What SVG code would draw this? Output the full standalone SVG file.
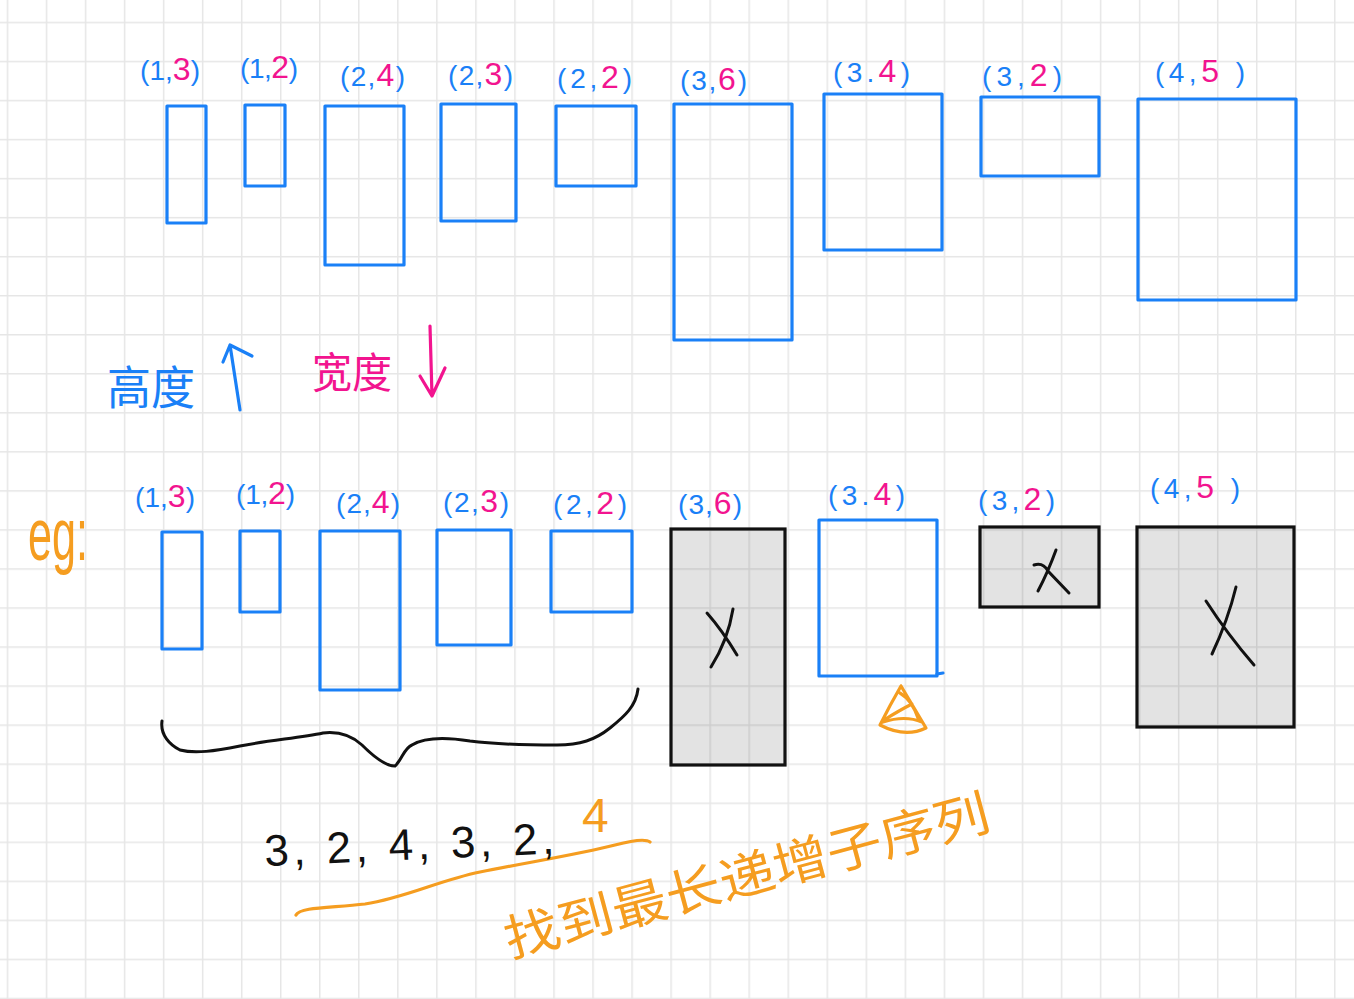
<svg xmlns="http://www.w3.org/2000/svg" width="1354" height="999" viewBox="0 0 1354 999">
<defs>
<pattern id="grid" patternUnits="userSpaceOnUse" x="6.7" y="21.7" width="39.04" height="39.04">
<path d="M0,0 H39.04 M0,0 V39.04" fill="none" stroke="#e6e6e6" stroke-width="3"/>
</pattern>
<style>
.b{fill:none;stroke:#1a80f7;stroke-width:3.2;stroke-linejoin:round;stroke-linecap:round}
.g{fill:#000;fill-opacity:0.11;stroke:#111;stroke-width:3.2}
.x{fill:none;stroke:#111;stroke-width:3;stroke-linecap:round}
.o{fill:none;stroke:#f59d20;stroke-width:3.2;stroke-linecap:round;stroke-linejoin:round}
.lbl{font-family:"Liberation Sans","Noto Sans",sans-serif;font-size:28px;fill:#1a80f7}
.pk{fill:#f2148f;font-size:32px}
.cjk{font-family:"Noto Sans CJK SC","Noto Sans",sans-serif}
</style>
</defs>
<rect width="1354" height="999" fill="#fff"/>
<rect width="1354" height="999" fill="url(#grid)"/>

<g id="top-row">
<g id="t1"><text class="lbl" x="140" y="80" textLength="60" lengthAdjust="spacing">(1,<tspan class="pk">3</tspan>)</text><rect class="b" x="167" y="106" width="39" height="117"/></g>
<g id="t2"><text class="lbl" x="240" y="78" textLength="58" lengthAdjust="spacing">(1,<tspan class="pk">2</tspan>)</text><rect class="b" x="245" y="105" width="40" height="81"/></g>
<g id="t3"><text class="lbl" x="340" y="86" textLength="65" lengthAdjust="spacing">(2,<tspan class="pk">4</tspan>)</text><rect class="b" x="325" y="106" width="79" height="159"/></g>
<g id="t4"><text class="lbl" x="448" y="85" textLength="65" lengthAdjust="spacing">(2,<tspan class="pk">3</tspan>)</text><rect class="b" x="441" y="104" width="75" height="117"/></g>
<g id="t5"><text class="lbl" x="557" y="88" textLength="75" lengthAdjust="spacing">(2,<tspan class="pk">2</tspan>)</text><rect class="b" x="556" y="106" width="80" height="80"/></g>
<g id="t6"><text class="lbl" x="680" y="90" textLength="67" lengthAdjust="spacing">(3,<tspan class="pk" font-size="40">6</tspan>)</text><rect class="b" x="674" y="104" width="118" height="236"/></g>
<g id="t7"><text class="lbl" x="833" y="82" textLength="77" lengthAdjust="spacing">(3.<tspan class="pk" font-size="36">4</tspan>)</text><rect class="b" x="824" y="94" width="118" height="156"/></g>
<g id="t8"><text class="lbl" x="982" y="86" textLength="80" lengthAdjust="spacing">(3,<tspan class="pk">2</tspan>)</text><rect class="b" x="981" y="97" width="118" height="79"/></g>
<g id="t9"><text class="lbl" x="1155" y="82" textLength="90" lengthAdjust="spacing" font-size="34">(4,<tspan class="pk" font-size="38">5</tspan> )</text><rect class="b" x="1138" y="99" width="158" height="201"/></g>
</g>

<g id="legend">
<g id="height-asc"><text class="cjk" x="107" y="404" font-size="46" fill="#1a80f7" textLength="88" lengthAdjust="spacingAndGlyphs">高度</text>
<path class="b" d="M240,410 L230,345 M223,362 L230,345 L252,356"/></g>
<g id="width-desc"><text class="cjk" x="312" y="388" font-size="42" fill="#f2148f" textLength="80" lengthAdjust="spacingAndGlyphs">宽度</text>
<path class="b" style="stroke:#f2148f" d="M430,326 L432,396 M420,376 L432,396 L445,368"/></g>
</g>

<g id="eg"><text x="0" y="0" font-family="'Liberation Sans',sans-serif" font-size="50" fill="#f59d20" textLength="60" lengthAdjust="spacingAndGlyphs" transform="translate(28,560) scale(1,1.5)">eg:</text></g>

<g id="bottom-row">
<g id="b1"><text class="lbl" x="135" y="507" textLength="60" lengthAdjust="spacing">(1,<tspan class="pk">3</tspan>)</text><rect class="b" x="162" y="532" width="40" height="117"/></g>
<g id="b2"><text class="lbl" x="236" y="504" textLength="59" lengthAdjust="spacing">(1,<tspan class="pk">2</tspan>)</text><rect class="b" x="240" y="531" width="40" height="81"/></g>
<g id="b3"><text class="lbl" x="336" y="513" textLength="64" lengthAdjust="spacing">(2,<tspan class="pk">4</tspan>)</text><rect class="b" x="320" y="531" width="80" height="159"/></g>
<g id="b4"><text class="lbl" x="443" y="512" textLength="66" lengthAdjust="spacing">(2,<tspan class="pk">3</tspan>)</text><rect class="b" x="437" y="530" width="74" height="115"/></g>
<g id="b5"><text class="lbl" x="553" y="514" textLength="74" lengthAdjust="spacing">(2,<tspan class="pk">2</tspan>)</text><rect class="b" x="551" y="531" width="81" height="81"/></g>
<g id="b6"><text class="lbl" x="678" y="514" textLength="64" lengthAdjust="spacing">(3,<tspan class="pk" font-size="40">6</tspan>)</text><rect class="g" x="671" y="529" width="114" height="236"/><path class="x" d="M707,613 Q722,630 737,655 M733,609 Q728,640 711,667"/></g>
<g id="b7"><text class="lbl" x="828" y="505" textLength="77" lengthAdjust="spacing">(3.<tspan class="pk" font-size="36">4</tspan>)</text><rect class="b" x="819" y="520" width="118" height="156"/><path class="b" d="M937,674 L943,673"/></g>
<g id="b8"><text class="lbl" x="978" y="510" textLength="77" lengthAdjust="spacing">(3,<tspan class="pk">2</tspan>)</text><rect class="g" x="980" y="527" width="119" height="80"/><path class="x" d="M1034,565 Q1043,562 1048,571 L1069,593 M1056,550 Q1048,572 1038,591"/></g>
<g id="b9"><text class="lbl" x="1150" y="498" textLength="90" lengthAdjust="spacing" font-size="34">(4,<tspan class="pk" font-size="38">5</tspan> )</text><rect class="g" x="1137" y="527" width="157" height="200"/><path class="x" d="M1206,601 Q1228,635 1254,665 M1236,587 Q1228,620 1212,654"/></g>
</g>

<g id="connectors">
<path d="M162,721 C160,735 170,745 180,750 C195,754 215,751 240,746 C270,740 300,738 323,733 C340,731 352,736 362,745 C372,755 385,766 395,766 C402,760 404,748 412,745 C425,737 445,737 470,741 C500,745 530,745 557,745 C580,745 595,740 610,728 C625,716 636,706 638,689" fill="none" stroke="#111" stroke-width="3" stroke-linecap="round"/>
<path class="o" d="M296,915 C300,907 330,908 365,904 C405,898 440,880 480,872 C530,862 580,854 615,845 C630,841 645,838 650,842"/>
<path class="o" d="M901,686 L926,728 Q905,738 880,725 Q890,705 901,686 M884,720 Q900,710 912,704 M883,722 Q905,715 922,722 M900,693 Q912,700 918,718" stroke-width="4"/>
</g>

<g id="sequence">
<text x="0" y="0" font-family="'Liberation Sans',sans-serif" font-size="44" fill="#111" textLength="290" lengthAdjust="spacing" transform="translate(265,866) rotate(-2.5)">3, 2, 4, 3, 2,</text>
<text x="582" y="832" font-family="'Liberation Sans',sans-serif" font-size="48" fill="#f59d20">4</text>
</g>

<g id="note"><text class="cjk" x="0" y="0" font-size="50" fill="#f59d20" textLength="500" lengthAdjust="spacingAndGlyphs" transform="translate(510,958) rotate(-15)">找到最长递增子序列</text></g>
</svg>
